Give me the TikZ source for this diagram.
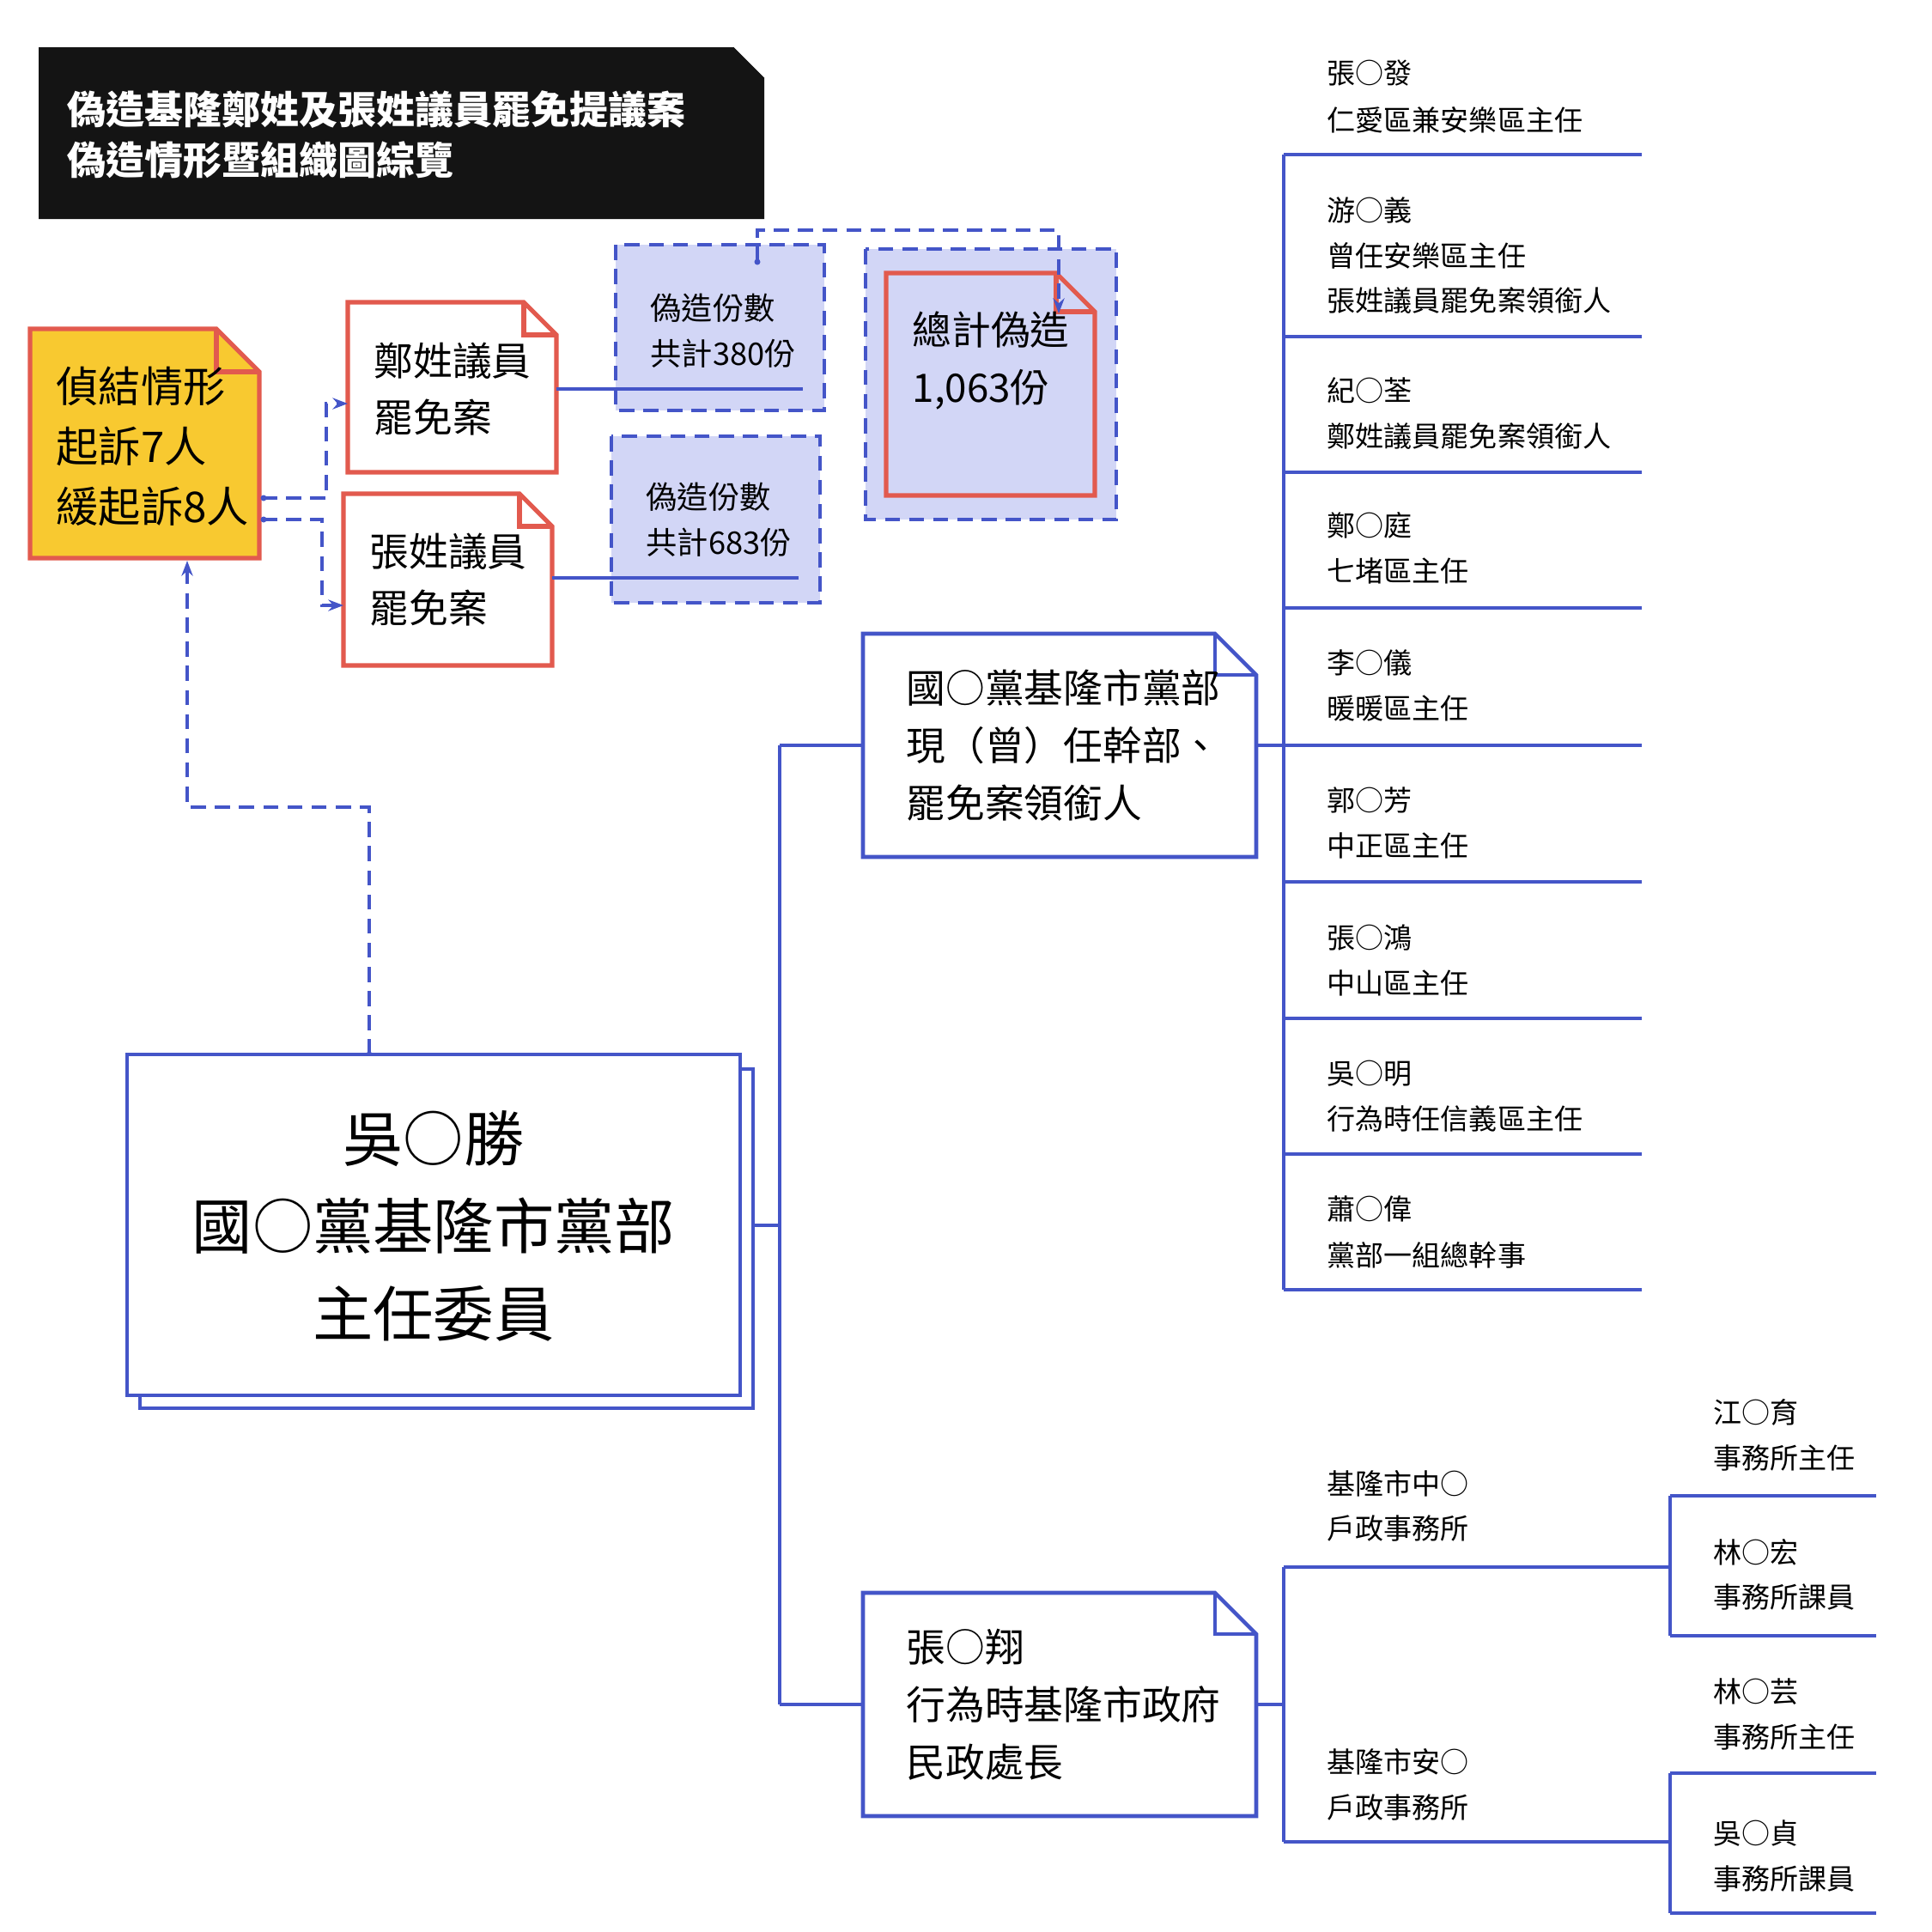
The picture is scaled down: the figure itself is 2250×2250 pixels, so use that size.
\documentclass[tikz,border=0pt]{standalone}
\usepackage{fontspec}
\setmainfont{Noto Sans CJK TC}
\usetikzlibrary{arrows.meta}
\definecolor{bl}{HTML}{4455C8}
\definecolor{lav}{HTML}{D2D6F6}
\definecolor{rd}{HTML}{E25A4E}
\definecolor{yl}{HTML}{F8C930}
\tikzset{
 ln/.style={draw=bl,line width=1.3pt},
 dl/.style={draw=bl,line width=1.3pt,dash pattern=on 5pt off 3pt},
 it/.style={anchor=west,font=\fontsize{9.4}{11}\selectfont,inner sep=0pt},
 mid/.style={anchor=west,font=\fontsize{13}{19}\selectfont,align=left,inner sep=0pt},
}
\newcommand{\dognote}[6]{%
 \path[#1] (#2,#3) -- (#4-#6,#3) -- (#4,#3+#6) -- (#4,#5) -- (#2,#5) -- cycle;
 \draw[#1,fill=none] (#4-#6,#3) -- (#4-#6,#3+#6) -- (#4,#3+#6);}
\begin{document}
\begin{tikzpicture}[x=0.01cm,y=-0.01cm]
\useasboundingbox (0,0) rectangle (2250,2250);
\fill[white] (0,0) rectangle (2250,2250);
\fill[black!92] (45,55) -- (855,55) -- (890,90) -- (890,255) -- (45,255) -- cycle;
\fill[white] (855,55) -- (890,55) -- (890,90) -- cycle;
\node[anchor=west,text=white,font=\bfseries\fontsize{12.8}{17}\selectfont,align=left,inner sep=0pt] (title) at (78,157) {偽造基隆鄭姓及張姓議員罷免提議案\\偽造情形暨組織圖綜覽};
\dognote{draw=rd,fill=yl,line width=1.5pt}{35}{383}{302}{650}{50}
\node[mid,font=\fontsize{14}{20}\selectfont] (yel) at (65,520) {偵結情形\\起訴7人\\緩起訴8人};
\dognote{draw=rd,fill=white,line width=1.5pt}{405}{352}{648}{550}{38}
\node[mid] (zheng) at (435,453) {鄭姓議員\\罷免案};
\dognote{draw=rd,fill=white,line width=1.5pt}{400}{575}{643}{775}{38}
\node[mid] (zhang) at (430,675) {張姓議員\\罷免案};
\path[dl,fill=lav] (717,285) rectangle (960,478);
\node[mid,font=\fontsize{10.3}{15}\selectfont] (c380) at (757,385) {偽造份數\\共計380份};
\path[dl,fill=lav] (712,508) rectangle (955,702);
\node[mid,font=\fontsize{10.3}{15}\selectfont] (c683) at (752,605) {偽造份數\\共計683份};
\path[dl,fill=lav] (1008,290) rectangle (1300,605);
\dognote{draw=rd,fill=lav,line width=1.5pt}{1032}{318}{1275}{577}{45}
\node[mid] (tot) at (1062,420) {總計偽造\\1,063份};
\draw[ln] (648,453) -- (935,453);
\draw[ln] (643,673) -- (930,673);
\draw[dl,-{Stealth[length=5pt]}] (882,305) -- (882,268) -- (1233,268) -- (1233,365);
\fill[bl] (882,305) circle (3.5);
\draw[dl,-{Stealth[length=5pt]}] (305,580) -- (380,580) -- (380,470) -- (405,470);
\draw[dl,-{Stealth[length=5pt]}] (305,605) -- (375,605) -- (375,705) -- (400,705);
\fill[bl] (307,580) circle (3.5); \fill[bl] (307,605) circle (3.5);
\draw[dl,-{Stealth[length=5pt]}] (430,1228) -- (430,940) -- (218,940) -- (218,653);
\fill[bl] (430,1228) circle (3.5);
\draw[ln] (163,1245) rectangle (877,1640);
\draw[ln,fill=white] (148,1228) rectangle (862,1625);
\node[font=\fontsize{20}{29}\selectfont,align=center,inner sep=0pt] (wu) at (505,1428) {吳○勝\\國○黨基隆市黨部\\主任委員};
\draw[ln] (877,1427) -- (908,1427);
\draw[ln] (908,868) -- (908,1985);
\draw[ln] (908,868) -- (1005,868);
\draw[ln] (908,1985) -- (1005,1985);
\dognote{draw=bl,fill=white,line width=1.3pt}{1005}{738}{1463}{998}{48}
\node[mid] (kmt) at (1055,868) {國○黨基隆市黨部\\現（曾）任幹部、\\罷免案領銜人};
\dognote{draw=bl,fill=white,line width=1.3pt}{1005}{1855}{1463}{2115}{48}
\node[mid] (zx) at (1055,1985) {張○翔\\行為時基隆市政府\\民政處長};
\draw[ln] (1463,868) -- (1495,868);
\draw[ln] (1495,180) -- (1495,1502);
\foreach \y in {180,392,550,708,868,1027,1186,1344,1502} \draw[ln] (1495,\y) -- (1912,\y);
\node[it] at (1545,85) {張○發}; \node[it] at (1545,140) {仁愛區兼安樂區主任};
\node[it] at (1545,245) {游○義}; \node[it] at (1545,298) {曾任安樂區主任}; \node[it] at (1545,350) {張姓議員罷免案領銜人};
\node[it] at (1545,455) {紀○荃}; \node[it] at (1545,508) {鄭姓議員罷免案領銜人};
\node[it] at (1545,612) {鄭○庭}; \node[it] at (1545,665) {七堵區主任};
\node[it] at (1545,772) {李○儀}; \node[it] at (1545,825) {暖暖區主任};
\node[it] at (1545,932) {郭○芳}; \node[it] at (1545,985) {中正區主任};
\node[it] at (1545,1092) {張○鴻}; \node[it] at (1545,1145) {中山區主任};
\node[it] at (1545,1250) {吳○明}; \node[it] at (1545,1303) {行為時任信義區主任};
\node[it] at (1545,1408) {蕭○偉}; \node[it] at (1545,1462) {黨部一組總幹事};
\draw[ln] (1463,1985) -- (1495,1985);
\draw[ln] (1495,1825) -- (1495,2145);
\draw[ln] (1495,1825) -- (1945,1825);
\draw[ln] (1495,2145) -- (1945,2145);
\node[it] at (1545,1728) {基隆市中○}; \node[it] at (1545,1780) {戶政事務所};
\node[it] at (1545,2052) {基隆市安○}; \node[it] at (1545,2105) {戶政事務所};
\draw[ln] (1945,1742) -- (1945,1905);
\draw[ln] (1945,2065) -- (1945,2228);
\foreach \y in {1742,1905,2065,2228} \draw[ln] (1945,\y) -- (2185,\y);
\node[it] at (1995,1645) {江○育}; \node[it] at (1995,1698) {事務所主任};
\node[it] at (1995,1808) {林○宏}; \node[it] at (1995,1860) {事務所課員};
\node[it] at (1995,1970) {林○芸}; \node[it] at (1995,2023) {事務所主任};
\node[it] at (1995,2135) {吳○貞}; \node[it] at (1995,2188) {事務所課員};
\end{tikzpicture}
\end{document}
